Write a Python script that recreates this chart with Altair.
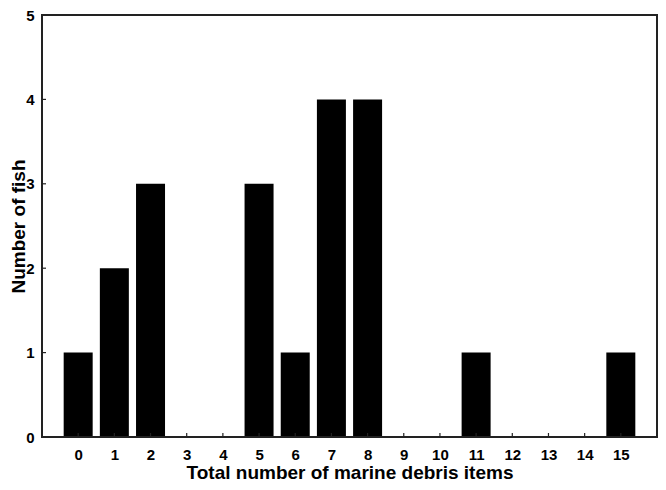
import altair as alt
import pandas as pd

items = list(range(16))
fish = [1, 2, 3, 0, 0, 3, 1, 4, 4, 0, 0, 1, 0, 0, 0, 1]
y_ticks = [1, 2, 3, 4]

bars_df = pd.DataFrame({"items": items, "fish": fish})
xt_df = pd.DataFrame({"items": items})
yt_df = pd.DataFrame({"fish": y_ticks})

FONT = "Liberation Sans"
W, H = 615, 422
LINE = "#222"

xscale = alt.Scale(domain=[-1, 16], nice=False, zero=False, padding=0)
yscale = alt.Scale(domain=[0, 5], nice=False, padding=0)

bars = alt.Chart(bars_df).mark_bar(size=29, color="black").encode(
    x=alt.X("items:Q", scale=xscale,
            axis=alt.Axis(values=items, title="Total number of marine debris items",
                          format="d",
                          ticks=False, domain=False, grid=False, labelPadding=10,
                          labelFontSize=15, labelFontWeight="bold", labelFont=FONT,
                          labelColor="black", titleFontSize=19, titleFontWeight="bold",
                          titleFont=FONT, titleColor="black", titleY=41,
                          titleBaseline="alphabetic")),
    y=alt.Y("fish:Q", scale=yscale,
            axis=alt.Axis(values=[0, 1, 2, 3, 4, 5], title="Number of fish",
                          format="d",
                          ticks=False, domain=False, grid=False, labelPadding=8,
                          labelFontSize=15, labelFontWeight="bold", labelFont=FONT,
                          labelColor="black", titleFontSize=19, titleFontWeight="bold",
                          titleFont=FONT, titleColor="black", titleX=-24,
                          titleBaseline="middle", titleAngle=-90)),
)

one = pd.DataFrame({"k": [0]})
frame_top = alt.Chart(one).mark_rect(color=LINE).encode(
    x=alt.value(-1), x2=alt.value(W + 1), y=alt.value(-1), y2=alt.value(1))
frame_bottom = alt.Chart(one).mark_rect(color=LINE).encode(
    x=alt.value(-1), x2=alt.value(W + 1), y=alt.value(H - 1), y2=alt.value(H + 1))
frame_left = alt.Chart(one).mark_rect(color=LINE).encode(
    x=alt.value(-1), x2=alt.value(1), y=alt.value(-1), y2=alt.value(H + 1))
frame_right = alt.Chart(one).mark_rect(color=LINE).encode(
    x=alt.value(W - 1), x2=alt.value(W + 1), y=alt.value(-1), y2=alt.value(H + 1))

xticks = alt.Chart(xt_df).mark_bar(size=1.2, color=LINE).encode(
    x=alt.X("items:Q", scale=xscale),
    y=alt.value(H),
    y2=alt.value(H - 4),
)

yticks = alt.Chart(yt_df).mark_bar(size=1.2, color=LINE, orient="horizontal").encode(
    y=alt.Y("fish:Q", scale=yscale),
    x=alt.value(0),
    x2=alt.value(4),
)

chart = alt.layer(bars, xticks, yticks, frame_top, frame_bottom, frame_left, frame_right).properties(
    width=W, height=H,
    background="white",
    autosize=alt.AutoSizeParams(type="none"),
    padding={"left": 34, "top": 7, "right": 1, "bottom": 45},
).configure_view(stroke=None)

chart.save("out.html", embed_options={"renderer": "svg", "actions": False})
